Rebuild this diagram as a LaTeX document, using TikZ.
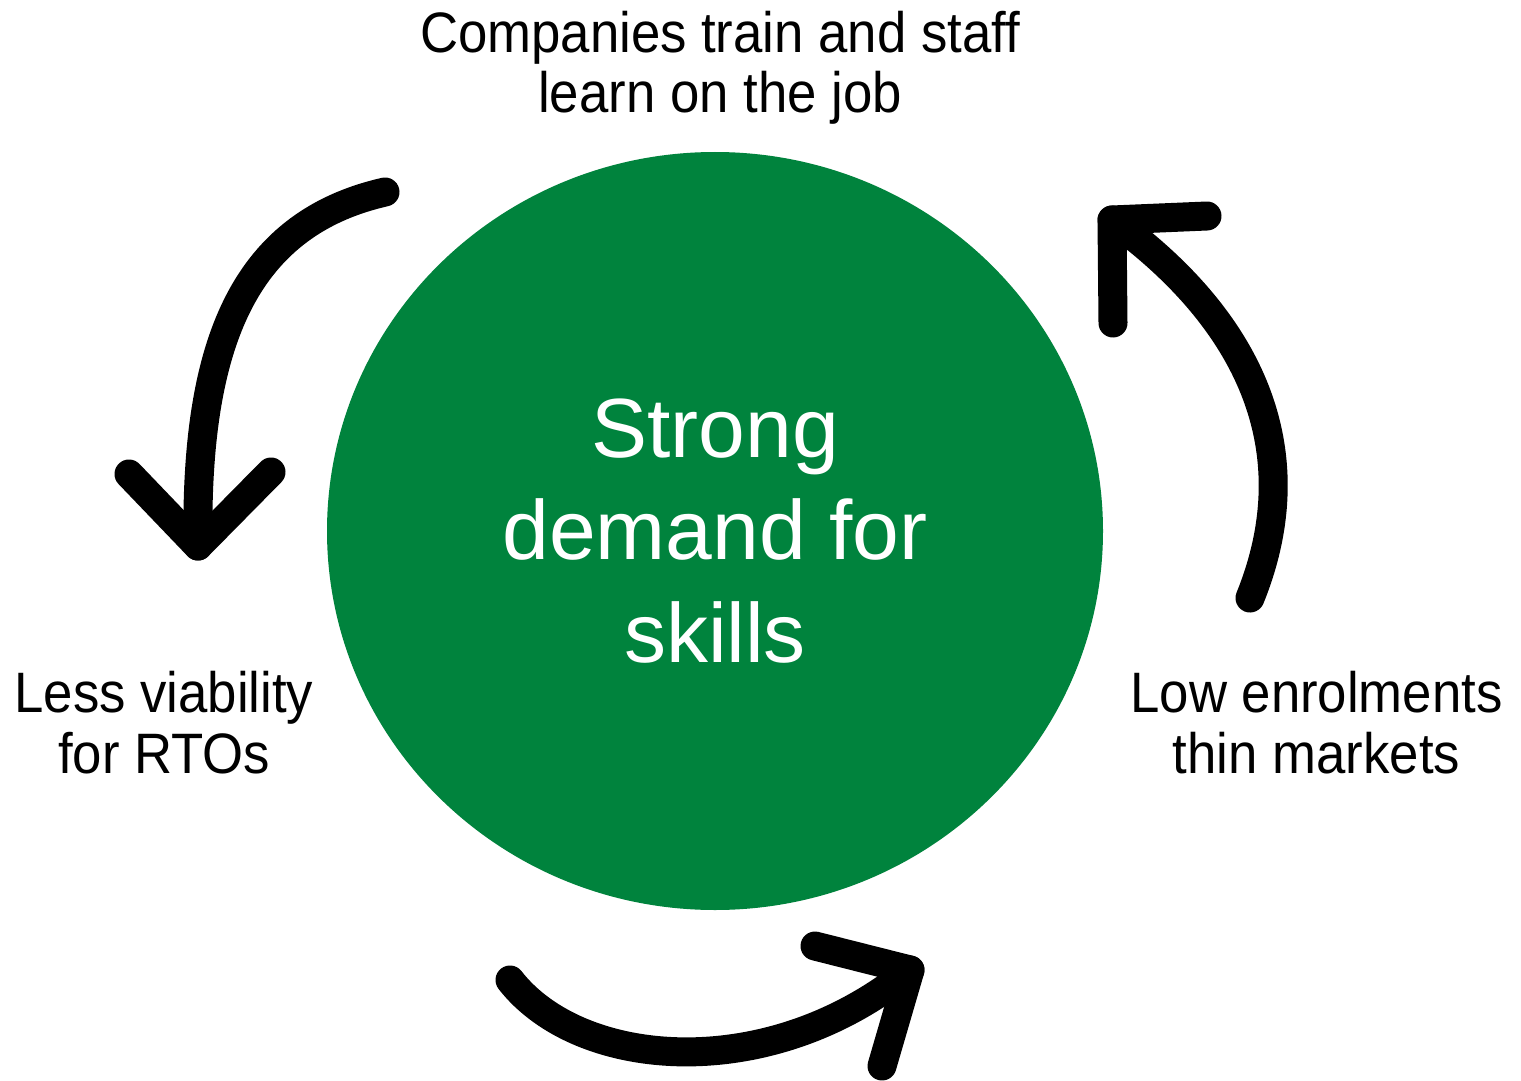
\documentclass[tikz,border=0pt]{standalone}
\usepackage{fontspec}
\setmainfont{Liberation Sans}
\usetikzlibrary{shapes.geometric}
\definecolor{circgreen}{RGB}{0,131,61}
\begin{document}
\begin{tikzpicture}[x=0.5pt,y=-0.5pt,
  arrowline/.style={line width=14.5pt,line cap=round,line join=round,draw=black},
  sidelabel/.style={font=\fontsize{28.5}{30.5}\selectfont,align=center,xscale=0.925,inner sep=0pt,anchor=base,text=black},
  core/.style={ellipse,fill=circgreen,minimum width=388pt,minimum height=379pt,inner sep=0pt,
    text=white,align=center,font=\fontsize{42}{51.25}\selectfont}]
\useasboundingbox (0,0) rectangle (1521,1081);
\fill[white] (0,0) rectangle (1521,1081);

\node[core] (hub) at (715,531) {Strong\\demand for\\skills};

\node[sidelabel] (top) at (720,113) {Companies train and staff\\learn on the job};
\node[sidelabel] (left) at (164,773) {Less viability\\for RTOs};
\node[sidelabel] (right) at (1316.5,773) {Low enrolments\\thin markets};

% arrow 1 (top left, pointing down)
\coordinate (a1s) at (385,192);
\coordinate (a1t) at (198,546);
\coordinate (a1l) at (129,474);
\coordinate (a1r) at (271,472);
\draw[arrowline] (a1s) .. controls (240,225) and (195,350) .. (a1t);
\draw[arrowline] (a1l) -- (a1t) -- (a1r);

% arrow 2 (right, pointing up)
\coordinate (a2s) at (1250,598);
\coordinate (a2t) at (1112,220);
\coordinate (a2u) at (1207,216);
\coordinate (a2d) at (1113,323);
\draw[arrowline] (a2s) .. controls (1310,450) and (1250,320) .. (a2t);
\draw[arrowline] (a2u) -- (a2t) -- (a2d);

% arrow 3 (bottom, pointing right)
\coordinate (a3s) at (510,980);
\coordinate (a3t) at (910,970);
\coordinate (a3u) at (815,946);
\coordinate (a3d) at (882,1066);
\draw[arrowline] (a3s) .. controls (580,1070) and (770,1085) .. (a3t);
\draw[arrowline] (a3u) -- (a3t) -- (a3d);
\end{tikzpicture}
\end{document}
